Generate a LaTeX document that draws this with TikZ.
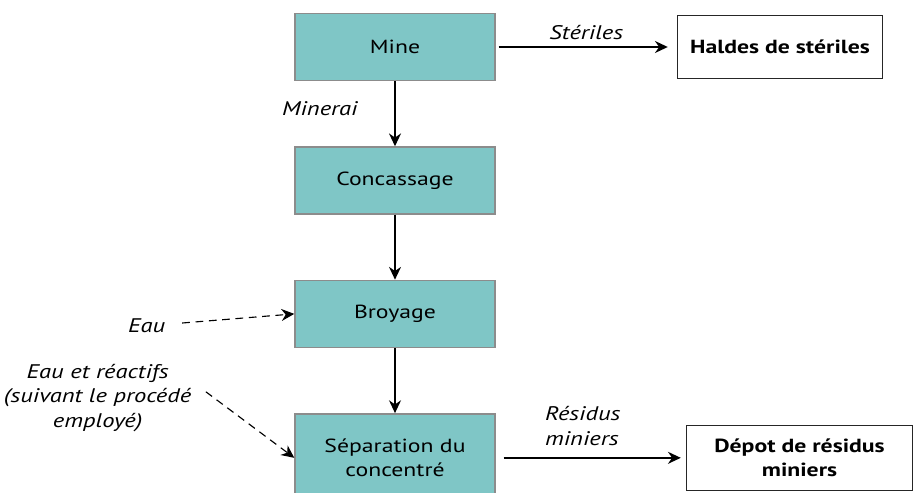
\documentclass[tikz,border=0pt]{standalone}
\usepackage{fontspec}
\setmainfont{PT Sans}[FakeStretch=1.25]
\usetikzlibrary{positioning,arrows.meta}
\definecolor{stagecyan}{HTML}{7FC6C6}
\definecolor{stagegrey}{HTML}{8C8C8C}

\begin{document}
\begin{tikzpicture}[
          x=0.025cm, y=-0.025cm,
          >={Stealth[length=3.2mm,width=3mm]},
          stage/.style={draw=stagegrey, fill=stagecyan, line width=1pt, minimum width=5cm, minimum height=1.675cm, align=center, font=\fontsize{13.5}{17}\selectfont},
          dump/.style={draw=black!85, line width=1pt, minimum height=1.6cm, align=center, font=\fontsize{13.5}{17}\selectfont\bfseries},
          flowlabel/.style={align=center, font=\fontsize{14}{17.5}\selectfont\itshape},
          feed/.style={->, line width=0.8pt, dash pattern=on 5.5pt off 4pt},
          node distance=1.625cm,
          ]

          \useasboundingbox (0,0) rectangle (914,493);

          \node[stage] (mine) at (395,47) {Mine};
          \node[stage, below=of mine] (concassage) {Concassage};
          \node[stage, below=of concassage] (broyage) {Broyage};
          \node[stage, below=of broyage, minimum height=2.2cm] (separation) {Séparation du\\concentré};

          \node[dump, right=4.525cm of mine, minimum width=5.125cm, minimum height=1.575cm] (haldes) {Haldes de stériles};
          \node[dump, right=4.75cm of separation, minimum width=5.65cm, minimum height=1.625cm] (depot) {Dépot de résidus\\miniers};

          \node[flowlabel, left=3.1cm of broyage, yshift=-0.3cm] (eau) {Eau};
          \node[flowlabel, left=2.45cm of separation, yshift=1.5cm] (reactifs) {Eau et réactifs\\(suivant le procédé\\employé)};

          \draw[->, line width=1pt] (mine) -- node[flowlabel, left=0.8cm, yshift=0.12cm] {Minerai} (concassage);
          \draw[->, line width=1pt] (concassage) -- (broyage);
          \draw[->, line width=1pt] (broyage) -- (separation);
          \draw[->, line width=1pt, shorten <=0.075cm, shorten >=0.225cm] (mine) -- node[flowlabel, above=1pt] {Stériles} (haldes);
          \draw[->, line width=1pt, shorten <=0.2cm, shorten >=0.125cm] (separation) -- node[flowlabel, above=5pt, align=left, xshift=-0.2cm] {Résidus\\miniers} (depot);

          \draw[feed, shorten <=0.3cm] (eau) -- (broyage.west);
          \draw[feed, shorten <=0.3cm] ([yshift=0.33cm]reactifs.east) -- (separation.west);

        \end{tikzpicture}
\end{document}
